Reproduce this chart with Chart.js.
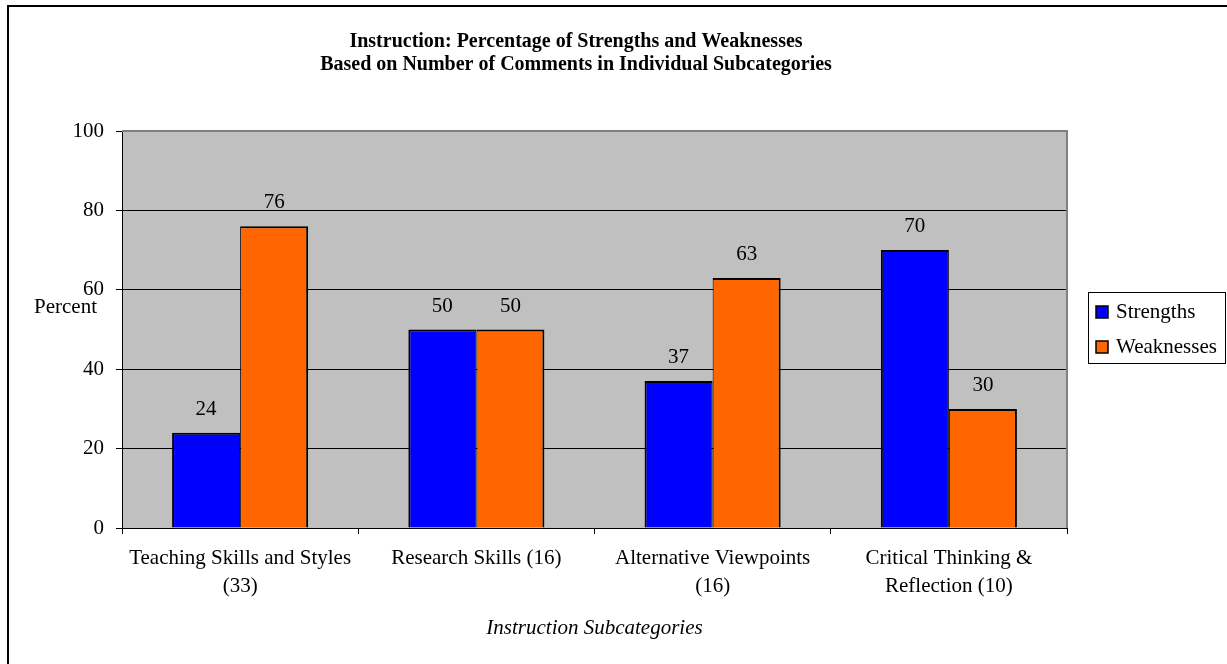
<!DOCTYPE html>
<html>
<head>
<meta charset="utf-8">
<script src="https://cdn.jsdelivr.net/npm/chart.js@4/dist/chart.umd.min.js"></script>
<style>
  html, body { margin: 0; padding: 0; background: #ffffff; }
  canvas { display: block; }
</style>
</head>
<body>
<canvas id="chart" width="1227" height="664"></canvas>
<script>
// Subcategories (number of comments in parentheses)
const categories = [
  ['Teaching Skills and Styles', '(33)'],
  'Research Skills (16)',
  ['Alternative Viewpoints', '(16)'],
  ['Critical Thinking &', 'Reflection (10)']
];
const seriesNames = ['Strengths', 'Weaknesses'];
const strengths = [24, 50, 37, 70];
const weaknesses = [76, 50, 63, 30];
const yMin = 0;
const yMax = 100;
const yStep = 20;

const titleLines = [
  'Instruction: Percentage of Strengths and Weaknesses',
  'Based on Number of Comments in Individual Subcategories'
];
const yAxisTitle = 'Percent';
const xAxisTitle = 'Instruction Subcategories';

const SERIF = "'Liberation Serif', 'Times New Roman', serif";

// Frame, plot background and plot border
const framePlugin = {
  id: 'frame',
  beforeDraw(chart) {
    const { ctx, chartArea: a } = chart;
    ctx.save();
    ctx.fillStyle = '#ffffff';
    ctx.fillRect(0, 0, chart.width, chart.height);
    ctx.strokeStyle = '#000000';
    ctx.lineWidth = 2;
    ctx.strokeRect(8, 6, chart.width + 20, chart.height + 20);
    ctx.fillStyle = '#c0c0c0';
    ctx.fillRect(a.left, a.top, a.right - a.left, a.bottom - a.top);
    ctx.restore();
  },
  beforeDatasetsDraw(chart) {
    const { ctx, chartArea: a } = chart;
    ctx.save();
    ctx.strokeStyle = '#808080';
    ctx.lineWidth = 2;
    ctx.beginPath();
    ctx.moveTo(a.left, a.top);
    ctx.lineTo(a.right, a.top);
    ctx.lineTo(a.right, a.bottom);
    ctx.stroke();
    ctx.restore();
  }
};

// Titles, value labels and the boxed legend
const textPlugin = {
  id: 'texts',
  afterDatasetsDraw(chart) {
    const { ctx } = chart;
    ctx.save();
    ctx.fillStyle = '#000000';

    // value labels above bars
    ctx.font = '21px ' + SERIF;
    ctx.textAlign = 'center';
    ctx.textBaseline = 'alphabetic';
    chart.data.datasets.forEach((ds, i) => {
      chart.getDatasetMeta(i).data.forEach((bar, j) => {
        ctx.fillText(String(ds.data[j]), bar.x, bar.y - 18);
      });
    });

    // chart title
    ctx.font = 'bold 20px ' + SERIF;
    ctx.fillText(titleLines[0], 576, 47);
    ctx.fillText(titleLines[1], 576, 70);

    // axis titles
    ctx.font = '21px ' + SERIF;
    ctx.textAlign = 'left';
    ctx.fillText(yAxisTitle, 34, 313);
    ctx.font = 'italic 21px ' + SERIF;
    ctx.textAlign = 'center';
    const a = chart.chartArea;
    ctx.fillText(xAxisTitle, (a.left + a.right) / 2, 634);

    // legend
    const lx = 1088, ly = 292, lw = 138, lh = 72;
    ctx.fillStyle = '#ffffff';
    ctx.fillRect(lx, ly, lw, lh);
    ctx.strokeStyle = '#000000';
    ctx.lineWidth = 1;
    ctx.strokeRect(lx + 0.5, ly + 0.5, lw - 1, lh - 1);
    ctx.font = '21px ' + SERIF;
    ctx.textAlign = 'left';
    chart.data.datasets.forEach((ds, i) => {
      const base = 318 + i * 35;
      ctx.fillStyle = ds.backgroundColor;
      ctx.fillRect(1096, base - 12, 12, 12);
      ctx.strokeStyle = '#000000';
      ctx.lineWidth = 1.5;
      ctx.strokeRect(1096, base - 12, 12, 12);
      ctx.fillStyle = '#000000';
      ctx.fillText(ds.label, 1116, base);
    });
    ctx.restore();
  }
};

new Chart(document.getElementById('chart'), {
  type: 'bar',
  data: {
    labels: categories,
    datasets: [
      {
        label: seriesNames[0],
        data: strengths,
        backgroundColor: '#0000ff',
        borderColor: '#000000',
        borderWidth: { top: 2, left: 2, right: 1, bottom: 0 },
        borderSkipped: false,
        categoryPercentage: 0.576,
        barPercentage: 1.0
      },
      {
        label: seriesNames[1],
        data: weaknesses,
        backgroundColor: '#ff6600',
        borderColor: '#000000',
        borderWidth: { top: 2, left: 1, right: 2, bottom: 0 },
        borderSkipped: false,
        categoryPercentage: 0.576,
        barPercentage: 1.0
      }
    ]
  },
  options: {
    responsive: false,
    animation: false,
    events: [],
    layout: { padding: { left: 0, top: 131, right: 160, bottom: 0 } },
    plugins: {
      legend: { display: false },
      title: { display: false },
      tooltip: { enabled: false }
    },
    scales: {
      x: {
        grid: {
          offset: true,
          drawOnChartArea: false,
          drawTicks: true,
          tickLength: 6,
          tickColor: '#000000',
          color: '#000000'
        },
        border: { display: true, color: '#000000', width: 1 },
        ticks: {
          color: '#000000',
          padding: 10,
          maxRotation: 0,
          autoSkip: false,
          font: { family: SERIF, size: 21, lineHeight: 1.35 }
        },
        afterFit(scale) { scale.height = 664 - 528; }
      },
      y: {
        min: yMin,
        max: yMax,
        ticks: {
          stepSize: yStep,
          color: '#000000',
          padding: 12,
          font: { family: SERIF, size: 21 }
        },
        grid: {
          color: '#000000',
          lineWidth: 1,
          drawTicks: true,
          tickLength: 6,
          tickColor: '#000000'
        },
        border: { display: true, color: '#000000', width: 1 },
        afterFit(scale) { scale.width = 122; }
      }
    }
  },
  plugins: [framePlugin, textPlugin]
});
</script>
</body>
</html>
